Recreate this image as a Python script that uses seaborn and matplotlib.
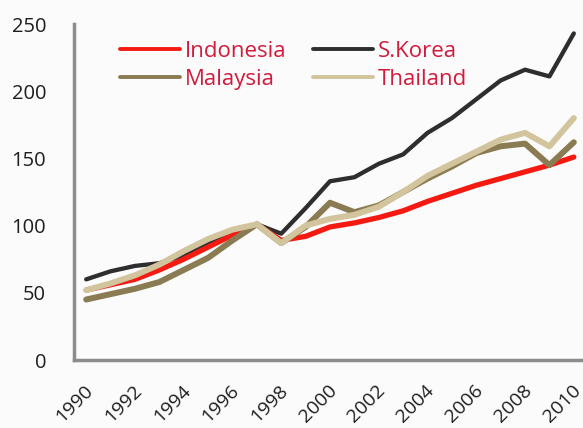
import numpy as np
import pandas as pd
import matplotlib
matplotlib.use("Agg")
import matplotlib.pyplot as plt
import matplotlib.transforms as mtransforms
from matplotlib.lines import Line2D
import seaborn as sns

years = list(range(1990, 2011))
indonesia = [52, 56, 60, 67, 75, 84, 93, 101, 89, 92, 99, 102, 106, 111, 118, 124, 130, 135, 140, 145, 151]
skorea = [60, 66, 70, 72, 78, 87, 95, 101, 94, 113, 133, 136, 146, 153, 169, 180, 194, 208, 216, 211, 243]
malaysia = [45, 49, 53, 58, 67, 76, 89, 101, 87, 99, 117, 110, 115, 125, 135, 144, 154, 159, 161, 145, 162]
thailand = [52, 57, 63, 71, 81, 90, 97, 101, 87, 100, 105, 108, 114, 125, 137, 146, 155, 164, 169, 159, 180]

series = {"Indonesia": indonesia, "S.Korea": skorea, "Malaysia": malaysia, "Thailand": thailand}
colors = {"Indonesia": "#f41a12", "S.Korea": "#2e2e2e", "Malaysia": "#8a7b52", "Thailand": "#d2c49c"}
widths = {"S.Korea": 3.1, "Indonesia": 3.8, "Malaysia": 4.3, "Thailand": 4.3}
draw_order = ["S.Korea", "Indonesia", "Malaysia", "Thailand"]
legend_order = ["Indonesia", "Malaysia", "S.Korea", "Thailand"]
y_ticks = [0, 50, 100, 150, 200, 250]
x_labels = list(range(1990, 2011, 2))

df = pd.DataFrame([
    {"year": y, "country": c, "value": v}
    for c in draw_order for y, v in zip(years, series[c])
])

sns.set_style("white")
plt.rcParams["font.family"] = ["Open Sans", "DejaVu Sans"]

fig = plt.figure(figsize=(5.83, 4.28), dpi=100, facecolor="#fbfbfb")
W, H = 583, 428
ax = fig.add_axes([74 / W, (H - 360) / H, (586 - 74) / W, (360 - 24) / H])
ax.set_facecolor("#fbfbfb")

sns.lineplot(data=df, x="year", y="value", hue="country", hue_order=draw_order,
             palette=colors, linewidth=3.8, ax=ax, legend=False, sort=False,
             solid_capstyle="round", solid_joinstyle="round")
for i, (line, name) in enumerate(zip(ax.lines, draw_order)):
    line.set_linewidth(widths[name])
    line.set_zorder(3 + i)

ax.set_xlim(1989.5, 2010.5)
ax.set_ylim(0, 250)
ax.set_xlabel("")
ax.set_ylabel("")

ax.set_yticks(y_ticks)
ax.set_yticklabels([str(t) for t in y_ticks], fontsize=14.5, color="#1e1e1e")
ax.tick_params(axis="y", length=0, pad=20)

ax.set_xticks(x_labels)
ax.set_xticklabels([str(t) for t in x_labels], fontsize=14, color="#1e1e1e",
                   rotation=45, ha="right", va="center", rotation_mode="anchor")
ax.tick_params(axis="x", which="major", length=0, pad=20)
ax.set_xticks(np.arange(1989.5, 2011, 1), minor=True)
ax.tick_params(axis="x", which="minor", length=5, width=2.5, color="#8c8c8c", direction="out")
offset = mtransforms.ScaledTranslation(4 / 100, 0, fig.dpi_scale_trans)
for lab in ax.get_xticklabels():
    lab.set_transform(lab.get_transform() + offset)

for side in ["top", "right"]:
    ax.spines[side].set_visible(False)
for side in ["left", "bottom"]:
    ax.spines[side].set_color("#8c8c8c")
    ax.spines[side].set_linewidth(2.5)
ax.grid(False)

handles = [Line2D([], [], color=colors[c], linewidth=2.8) for c in legend_order]
leg = ax.legend(handles, legend_order, ncol=2, frameon=False, fontsize=16,
                labelcolor="#d21a3c", handlelength=2.7, handletextpad=0.22,
                columnspacing=1.2, labelspacing=0.3,
                loc="upper left", bbox_to_anchor=(111 / W, (H - 32) / H),
                bbox_transform=fig.transFigure, borderaxespad=0)

fig.savefig("out.png", dpi=100, facecolor=fig.get_facecolor())
